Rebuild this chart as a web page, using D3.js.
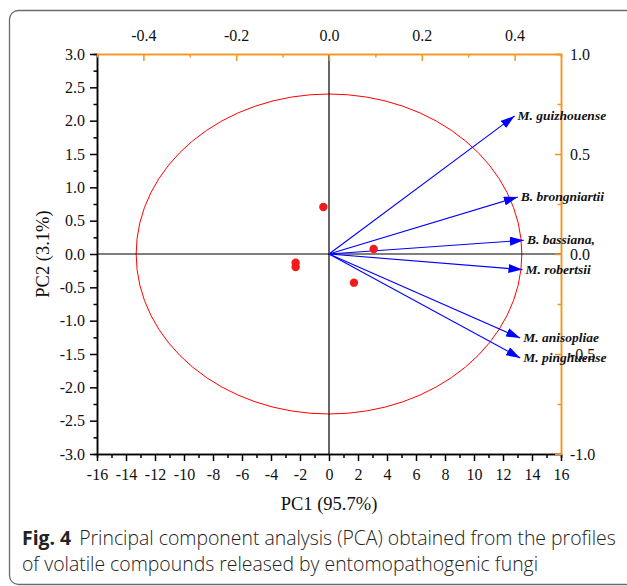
<!DOCTYPE html>
<html>
<head>
<meta charset="utf-8">
<script src="https://cdn.jsdelivr.net/npm/d3@7"></script>
<style>
  body { margin: 0; background: #fff; }
</style>
</head>
<body>
<div class="d3Chart"></div>
<script>
// PCA scores (samples)
const scorePC1 = [-0.39, -2.30, -2.30, 1.72, 3.08]
const scorePC2 = [0.705, -0.13, -0.195, -0.43, 0.075]

// loading vectors
const loadingNames = ['M. guizhouense', 'B. brongniartii', 'B. bassiana,', 'M. robertsii', 'M. anisopliae', 'M. pinghuense']
const loadingPC1 = [0.40, 0.407, 0.42, 0.417, 0.412, 0.412]
const loadingPC2 = [0.69, 0.285, 0.069, -0.078, -0.42, -0.52]

// confidence ellipse radii in score units
const ellipseRx = 13.3
const ellipseRy = 2.4

const bottomTicks = d3.range(-16, 17, 2)
const leftTicks = d3.range(-3, 3.01, 0.5)
const topTicks = [-0.4, -0.2, 0, 0.2, 0.4]
const rightTicks = [-1, -0.5, 0, 0.5, 1]

const xAxisTitle = 'PC1 (95.7%)'
const yAxisTitle = 'PC2 (3.1%)'
const captionBold = 'Fig. 4'
const captionLines = ['Principal component analysis (PCA) obtained from the profiles', 'of volatile compounds released by entomopathogenic fungi']

const width = 627
const height = 586
const plot = { left: 97, right: 561, top: 54, bottom: 454 }
const orange = '#f7941d'
const serif = '"Liberation Serif", "Times New Roman", serif'
const tickFont = 16

const x = d3.scaleLinear().domain([-16, 16]).range([plot.left, plot.right])
const y = d3.scaleLinear().domain([-3, 3]).range([plot.bottom, plot.top])
const xl = d3.scaleLinear().domain([-0.5, 0.5]).range([plot.left, plot.right])
const yl = d3.scaleLinear().domain([-1, 1]).range([plot.bottom, plot.top])

const fmt1 = d => (Math.abs(d) < 1e-9 ? 0 : d).toFixed(1)
const fmt0 = d => String(Math.round(d))

const svg = d3.select('.d3Chart')
  .append('svg')
  .attr('width', width)
  .attr('height', height)

// outer frame
svg.append('rect')
  .attr('x', 9.5)
  .attr('y', 10.5)
  .attr('width', 640)
  .attr('height', 574)
  .attr('rx', 9)
  .attr('fill', 'none')
  .attr('stroke', '#6b6b6b')
  .attr('stroke-width', 1.3)

// ellipse
svg.append('ellipse')
  .attr('cx', x(0))
  .attr('cy', y(0))
  .attr('rx', x(ellipseRx) - x(0))
  .attr('ry', y(0) - y(ellipseRy))
  .attr('fill', 'none')
  .attr('stroke', '#ff0000')
  .attr('stroke-width', 1)

// zero lines
svg.append('line')
  .attr('x1', x(0)).attr('x2', x(0))
  .attr('y1', plot.top).attr('y2', plot.bottom)
  .attr('stroke', '#000').attr('stroke-width', 1.2)
svg.append('line')
  .attr('x1', plot.left).attr('x2', plot.right)
  .attr('y1', y(0)).attr('y2', y(0))
  .attr('stroke', '#000').attr('stroke-width', 1.2)

// axes
function styleAxis (g, color, fontSize) {
  g.select('.domain').attr('stroke', color).attr('stroke-width', 1.5)
  g.selectAll('.tick line').attr('stroke', color).attr('stroke-width', 1.5)
  g.selectAll('.tick text')
    .attr('fill', '#111')
    .attr('font-family', serif)
    .attr('font-size', fontSize)
}

// minor ticks first so the major ones sit on top
const bottomMinor = svg.append('g')
  .attr('transform', `translate(0,${plot.bottom})`)
  .call(d3.axisBottom(x).tickValues(d3.range(-15, 16, 2)).tickSize(4).tickFormat(''))
styleAxis(bottomMinor, '#000', 0)

const bottomAxis = svg.append('g')
  .attr('transform', `translate(0,${plot.bottom})`)
  .call(d3.axisBottom(x).tickValues(bottomTicks).tickSize(7).tickSizeOuter(0).tickPadding(8).tickFormat(fmt0))
styleAxis(bottomAxis, '#000', tickFont)

const leftMinor = svg.append('g')
  .attr('transform', `translate(${plot.left},0)`)
  .call(d3.axisLeft(y).tickValues(d3.range(-2.75, 3, 0.5)).tickSize(3.5).tickFormat(''))
styleAxis(leftMinor, '#000', 0)

const leftAxis = svg.append('g')
  .attr('transform', `translate(${plot.left},0)`)
  .call(d3.axisLeft(y).tickValues(leftTicks).tickSize(7).tickSizeOuter(0).tickPadding(5).tickFormat(fmt1))
styleAxis(leftAxis, '#000', tickFont)

// loading axes (orange), ticks point inward
const topMinor = svg.append('g')
  .attr('transform', `translate(0,${plot.top})`)
  .call(d3.axisTop(xl).tickValues([-0.3, -0.1, 0.1, 0.3]).tickSize(-3.5).tickFormat(''))
styleAxis(topMinor, orange, 0)

const topAxis = svg.append('g')
  .attr('transform', `translate(0,${plot.top})`)
  .call(d3.axisTop(xl).tickValues(topTicks).tickSize(-7).tickSizeOuter(0).tickPadding(13.5).tickFormat(fmt1))
styleAxis(topAxis, orange, tickFont)

const rightMinor = svg.append('g')
  .attr('transform', `translate(${plot.right},0)`)
  .call(d3.axisRight(yl).tickValues([-0.75, -0.25, 0.25, 0.75]).tickSize(-3.5).tickFormat(''))
styleAxis(rightMinor, orange, 0)

const rightAxis = svg.append('g')
  .attr('transform', `translate(${plot.right},0)`)
  .call(d3.axisRight(yl).tickValues(rightTicks).tickSize(-6).tickSizeOuter(0).tickPadding(9).tickFormat(fmt1))
styleAxis(rightAxis, orange, tickFont)

// loading arrows
const defs = svg.append('defs')
defs.append('marker')
  .attr('id', 'arrowHead')
  .attr('viewBox', '0 0 14 9')
  .attr('refX', 14)
  .attr('refY', 4.5)
  .attr('markerWidth', 14)
  .attr('markerHeight', 9)
  .attr('markerUnits', 'userSpaceOnUse')
  .attr('orient', 'auto')
  .append('path')
  .attr('d', 'M0,0L14,4.5L0,9Z')
  .attr('fill', '#0000ff')

const arrows = svg.append('g')
  .selectAll('g')
  .data(loadingNames)
  .enter()
  .append('g')

arrows.append('line')
  .attr('x1', xl(0))
  .attr('y1', yl(0))
  .attr('x2', (d, i) => xl(loadingPC1[i]))
  .attr('y2', (d, i) => yl(loadingPC2[i]))
  .attr('stroke', '#0000ff')
  .attr('stroke-width', 1.1)
  .attr('marker-end', 'url(#arrowHead)')

// score points
svg.append('g')
  .selectAll('circle')
  .data(scorePC1)
  .enter()
  .append('circle')
  .attr('cx', d => x(d))
  .attr('cy', (d, i) => y(scorePC2[i]))
  .attr('r', 4.2)
  .attr('fill', '#f21b1b')

arrows.append('text')
  .attr('x', (d, i) => xl(loadingPC1[i]) + 3)
  .attr('y', (d, i) => yl(loadingPC2[i]) + 1)
  .attr('dominant-baseline', 'middle')
  .attr('font-family', serif)
  .attr('font-style', 'italic')
  .attr('font-weight', 'bold')
  .attr('font-size', 13.5)
  .attr('fill', '#111')
  .text(d => d)

// axis titles
svg.append('text')
  .attr('x', x(0))
  .attr('y', 510)
  .attr('text-anchor', 'middle')
  .attr('font-family', serif)
  .attr('font-size', 18.5)
  .attr('fill', '#111')
  .text(xAxisTitle)

svg.append('text')
  .attr('transform', `translate(49,${y(0)}) rotate(-90)`)
  .attr('text-anchor', 'middle')
  .attr('font-family', serif)
  .attr('font-size', 18.5)
  .attr('fill', '#111')
  .text(yAxisTitle)

// caption
const caption = svg.append('g')
  .attr('font-family', '"Open Sans", "Noto Sans", sans-serif')
  .attr('font-size', 19.4)
  .attr('fill', '#222')

const line1 = caption.append('text')
  .attr('x', 22)
  .attr('y', 545)
line1.append('tspan')
  .attr('font-weight', 'bold')
  .text(captionBold)
line1.append('tspan')
  .attr('dx', 8)
  .attr('font-weight', 300)
  .text(captionLines[0])

caption.append('text')
  .attr('x', 22)
  .attr('y', 571)
  .attr('font-weight', 300)
  .text(captionLines[1])
</script>
</body>
</html>
